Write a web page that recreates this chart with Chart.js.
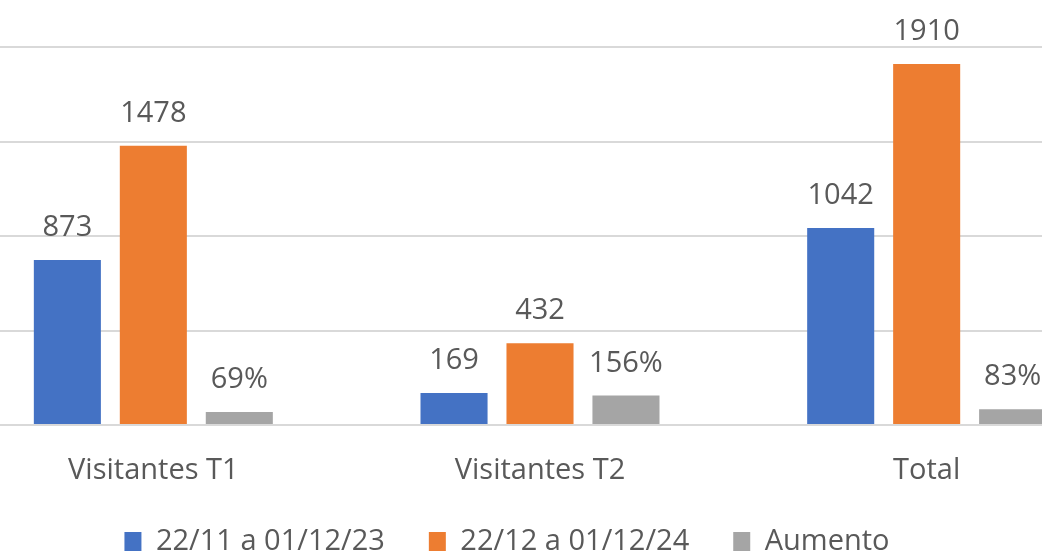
<!DOCTYPE html>
<html>
<head>
<meta charset="utf-8">
<script src="https://cdn.jsdelivr.net/npm/chart.js@4.4.1/dist/chart.umd.min.js"></script>
<style>
    html, body { margin: 0; padding: 0; background: #fff; overflow: hidden; width: 1042px; height: 556px; }
    #wrap { position: absolute; left: -106px; top: 0; width: 1226px; height: 566px; }
</style>
</head>
<body>
<div id="wrap"><canvas id="myChart" width="1226" height="566"></canvas></div>
<script>
// chart data
const categories = ['Visitantes T1', 'Visitantes T2', 'Total'];
const periodo2023 = [873, 169, 1042];
const periodo2024 = [1478, 432, 1910];
const aumento = [69, 156, 83];
const seriesNames = ['22/11 a 01/12/23', '22/12 a 01/12/24', 'Aumento'];
const yTicks = [0, 500, 1000, 1500, 2000];

const textColor = '#595959';
const fontFamily = "'Open Sans', 'Noto Sans', sans-serif";

document.addEventListener("DOMContentLoaded", function () {

    // value labels above each bar
    const barLabels = {
        id: 'barLabels',
        afterDatasetsDraw(chart) {
            const ctx = chart.ctx;
            ctx.save();
            ctx.font = '29px ' + fontFamily;
            ctx.fillStyle = textColor;
            ctx.textAlign = 'center';
            ctx.textBaseline = 'alphabetic';
            chart.data.datasets.forEach((ds, i) => {
                const meta = chart.getDatasetMeta(i);
                meta.data.forEach((bar, j) => {
                    const txt = ds.data[j] + (ds.suffix || '');
                    ctx.fillText(txt, bar.x, bar.y - 24);
                });
            });
            ctx.restore();
        }
    };

    const ctx = document.getElementById('myChart').getContext('2d');
    new Chart(ctx, {
        type: 'bar',
        data: {
            labels: categories,
            datasets: [
                { label: seriesNames[0], data: periodo2023, backgroundColor: '#4472C4' },
                { label: seriesNames[1], data: periodo2024, backgroundColor: '#ED7D31' },
                { label: seriesNames[2], data: aumento, backgroundColor: '#A5A5A5', suffix: '%' }
            ]
        },
        options: {
            responsive: false,
            animation: false,
            layout: { padding: { top: 47, left: 0, right: 0, bottom: 0 } },
            datasets: {
                bar: { categoryPercentage: 0.667, barPercentage: 0.78 }
            },
            scales: {
                x: {
                    grid: { display: false, drawTicks: false },
                    border: { display: false },
                    ticks: {
                        color: textColor,
                        font: { family: fontFamily, size: 29 },
                        padding: 28,
                        maxRotation: 0
                    },
                    afterFit: s => { s.height = 58; }
                },
                y: {
                    min: 0,
                    max: 2000,
                    afterBuildTicks: s => { s.ticks = yTicks.map(v => ({ value: v })); },
                    ticks: { display: false },
                    grid: { color: '#D9D9D9', lineWidth: 2, drawTicks: false },
                    border: { display: false },
                    afterFit: s => { s.width = 66; }
                }
            },
            plugins: {
                tooltip: { enabled: false },
                legend: {
                    position: 'bottom',
                    labels: {
                        color: textColor,
                        font: { family: fontFamily, size: 29 },
                        boxWidth: 17,
                        boxHeight: 19,
                        padding: 44
                    }
                }
            }
        },
        plugins: [barLabels]
    });
});
</script>
</body>
</html>
